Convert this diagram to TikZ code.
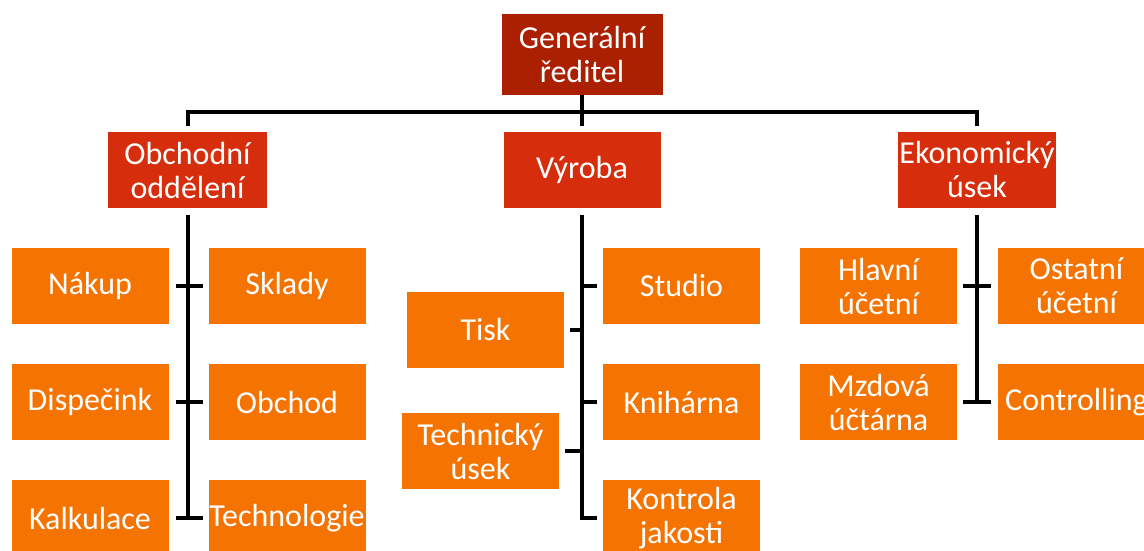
\documentclass[tikz,border=0pt]{standalone}
\usepackage{fontspec}
\setmainfont{Carlito}
\definecolor{topred}{HTML}{AA2000}
\definecolor{midred}{HTML}{D62E0C}
\definecolor{leaforange}{HTML}{F57300}
\begin{document}
\begin{tikzpicture}[x=1pt,y=-1pt,
  box/.style={rectangle, inner sep=0pt, text=white, align=center,
    minimum width=157pt, minimum height=76pt,
    font=\fontsize{32}{34}\selectfont},
  chief/.style={box, fill=topred, minimum width=161pt, minimum height=81pt},
  dept/.style={box, fill=midred},
  unit/.style={box, fill=leaforange},
  conn/.style={draw=black, line width=4pt}]
\clip (0,0) rectangle (1144,550);
\fill[white] (0,0) rectangle (1144,550);

% top level
\node[chief] (gen) at (582,54.5) {Generální\\ředitel};

% departments
\node[dept, minimum width=159pt] (ob) at (187.5,170) {Obchodní\\oddělení};
\node[dept] (vy) at (582,170) {Výroba};
\node[dept, minimum width=158pt] (ek) at (977,170) {Ekonomický\\úsek};

% units of Obchodní oddělení
\node[unit] (nak) at (90,286) {Nákup};
\node[unit] (skl) at (287,286) {Sklady};
\node[unit] (dis) at (90,402) {Dispečink};
\node[unit] (obc) at (287,402) {Obchod};
\node[unit] (kal) at (90,518) {Kalkulace};
\node[unit] (tec) at (287,518) {Technologie};

% units of Výroba
\node[unit] (tis) at (485.5,329.5) {Tisk};
\node[unit] (tus) at (480.5,451) {Technický\\úsek};
\node[unit] (stu) at (681.5,286) {Studio};
\node[unit] (kni) at (681.5,402) {Knihárna};
\node[unit] (kon) at (681.5,518) {Kontrola\\jakosti};

% units of Ekonomický úsek
\node[unit] (hla) at (878.5,286) {Hlavní\\účetní};
\node[unit] (mzd) at (878.5,402) {Mzdová\\účtárna};
\node[unit] (ost) at (1076.5,286) {Ostatní\\účetní};
\node[unit] (con) at (1076.5,402) {Controlling};

% top bar
\coordinate (bar) at (582,112);
\draw[conn] ([yshift=6pt]ob.north) |- (bar) -| ([yshift=6pt]ek.north);
\draw[conn] (gen.south) -- ([yshift=6pt]vy.north);

% Obchodní oddělení branch
\draw[conn] ([yshift=-7pt]ob.south) -- (ob.south |- kal.east);
\draw[conn] ([xshift=7pt]nak.east) -- ([xshift=-5pt]skl.west);
\draw[conn] ([xshift=7pt]dis.east) -- ([xshift=-5pt]obc.west);
\draw[conn] ([xshift=7pt]kal.east) -- ([xshift=-5pt]tec.west);

% Výroba branch
\draw[conn] ([yshift=-7pt]vy.south) -- (vy.south |- kon.west) -- ([xshift=-6pt]kon.west);
\draw[conn] ([xshift=6pt]tis.east) -- (tis.east -| vy.south);
\draw[conn] ([xshift=6pt]tus.east) -- (tus.east -| vy.south);
\draw[conn] (vy.south |- stu.west) -- ([xshift=-6pt]stu.west);
\draw[conn] (vy.south |- kni.west) -- ([xshift=-6pt]kni.west);

% Ekonomický úsek branch
\draw[conn] ([yshift=-7pt]ek.south) -- (ek.south |- mzd.east);
\draw[conn] ([xshift=6pt]hla.east) -- ([xshift=-7pt]ost.west);
\draw[conn] ([xshift=6pt]mzd.east) -- ([xshift=-7pt]con.west);
\end{tikzpicture}
\end{document}
